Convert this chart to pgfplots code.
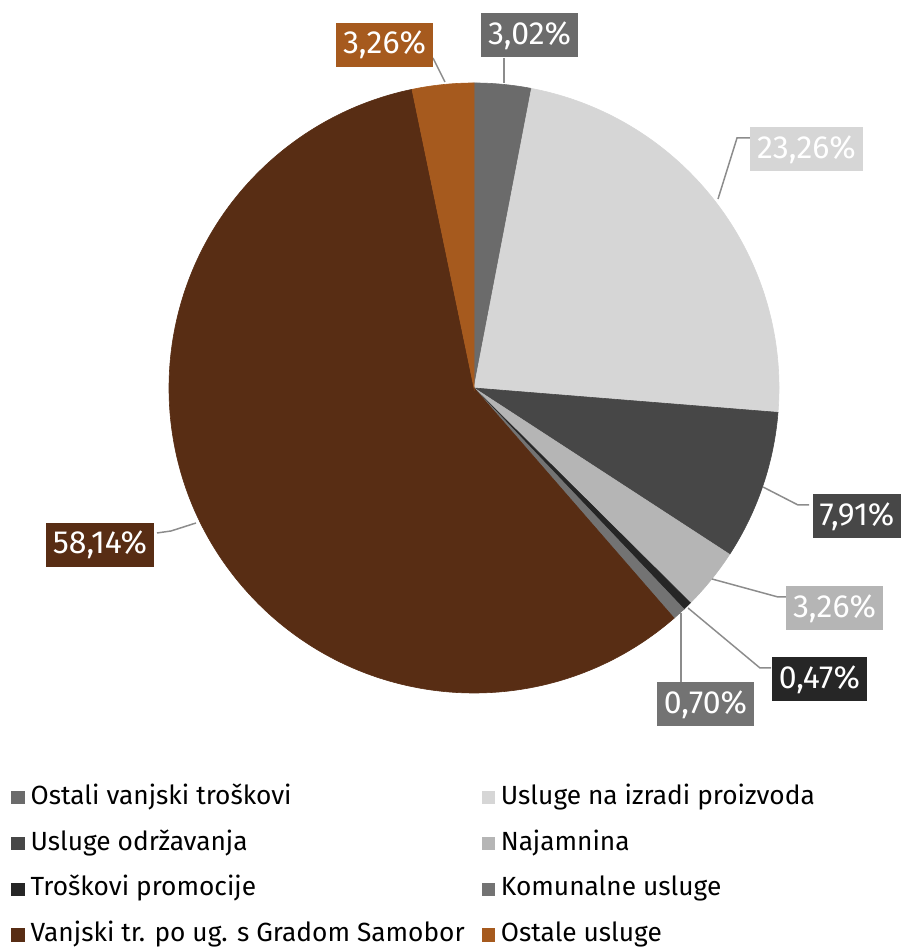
\documentclass[border=0pt]{standalone}
\usepackage{pgfplots}
\pgfplotsset{compat=1.18}
\usepackage{fontspec}
\setmainfont{Fira Sans}
\definecolor{cA}{HTML}{6B6B6B}
\definecolor{cB}{HTML}{D6D6D6}
\definecolor{cC}{HTML}{474747}
\definecolor{cD}{HTML}{B5B5B5}
\definecolor{cE}{HTML}{262626}
\definecolor{cF}{HTML}{737373}
\definecolor{cG}{HTML}{582D14}
\definecolor{cH}{HTML}{A65A1E}
\definecolor{leadc}{HTML}{8C8C8C}
\tikzset{lbl/.style={text=white,font=\fontsize{16pt}{19pt}\selectfont,minimum height=22pt,inner xsep=3.5pt,inner ysep=0pt},
  leader/.style={leadc,line width=0.75pt}}
\begin{document}
\begin{tikzpicture}
\begin{axis}[x=0.5pt,y=0.5pt,xmin=0,xmax=905,ymin=0,ymax=951,
  hide axis,clip=false,anchor=south west,at={(0,0)},
  legend columns=2, legend cell align=left,
  legend image code/.code={\fill[#1,draw=none] (0pt,-3.3pt) rectangle (6.6pt,3.3pt);},
  legend style={at={(axis cs:5,170)},anchor=north west,draw=none,fill=none,
    font=\fontsize{13.15pt}{16pt}\selectfont,
    nodes={inner sep=0pt,text height=9.5pt,text depth=3pt},
    row sep=10.35pt,
    /tikz/every odd column/.append style={column sep=3pt},
    /tikz/every even column/.append style={column sep=8.5pt}}]
\gdef\cum{0}
\foreach \v/\c in {3.02/cA,23.26/cB,7.91/cC,3.26/cD,0.47/cE,0.70/cF,58.14/cG,3.26/cH}{
  \pgfmathsetmacro\a{90-\cum*(360/100.02)}
  \pgfmathsetmacro\b{90-(\cum+\v)*(360/100.02)}
  \edef\temp{\noexpand\fill[\c,draw=\c,line width=0.3pt] (axis cs:474,563) -- ++(\a:152.5pt) arc[start angle=\a,end angle=\b,radius=152.5pt] -- cycle;}
  \temp
  \pgfmathsetmacro\newcum{\cum+\v}
  \global\let\cum\newcum
}
% leader lines
\draw[leader] (axis cs:433,893) -- (axis cs:445,869);
\draw[leader] (axis cs:504,893) -- (axis cs:504,868);
\draw[leader] (axis cs:750,813) -- (axis cs:737,813) -- (axis cs:718,752);
\draw[leader] (axis cs:763,464) -- (axis cs:798,446) -- (axis cs:809,446);
\draw[leader] (axis cs:712,372) -- (axis cs:778,354) -- (axis cs:787,354);
\draw[leader] (axis cs:688,343) -- (axis cs:760,283) -- (axis cs:771,283);
\draw[leader] (axis cs:681,338) -- (axis cs:681,269);
\draw[leader] (axis cs:157,418) -- (axis cs:171,420) -- (axis cs:196,428);
% labels
\node[lbl,fill=cH] at (axis cs:384.5,906) {3,26\%};
\node[lbl,fill=cA] at (axis cs:529.5,915.5) {3,02\%};
\node[lbl,fill=cB] at (axis cs:806.5,801.5) {23,26\%};
\node[lbl,fill=cC] at (axis cs:857,434.5) {7,91\%};
\node[lbl,fill=cD] at (axis cs:834.5,342.5) {3,26\%};
\node[lbl,fill=cE] at (axis cs:819.5,271.5) {0,47\%};
\node[lbl,fill=cF] at (axis cs:705.5,246.5) {0,70\%};
\node[lbl,fill=cG] at (axis cs:100,406) {58,14\%};
% legend
\addlegendimage{fill=cA}\addlegendentry{Ostali vanjski troškovi}
\addlegendimage{fill=cB}\addlegendentry{Usluge na izradi proizvoda}
\addlegendimage{fill=cC}\addlegendentry{Usluge održavanja}
\addlegendimage{fill=cD}\addlegendentry{Najamnina}
\addlegendimage{fill=cE}\addlegendentry{Troškovi promocije}
\addlegendimage{fill=cF}\addlegendentry{Komunalne usluge}
\addlegendimage{fill=cG}\addlegendentry{Vanjski tr. po ug. s Gradom Samobor}
\addlegendimage{fill=cH}\addlegendentry{Ostale usluge}
\end{axis}
\pgfresetboundingbox
\path (current axis.south west) rectangle (current axis.north east);
\end{tikzpicture}
\end{document}
